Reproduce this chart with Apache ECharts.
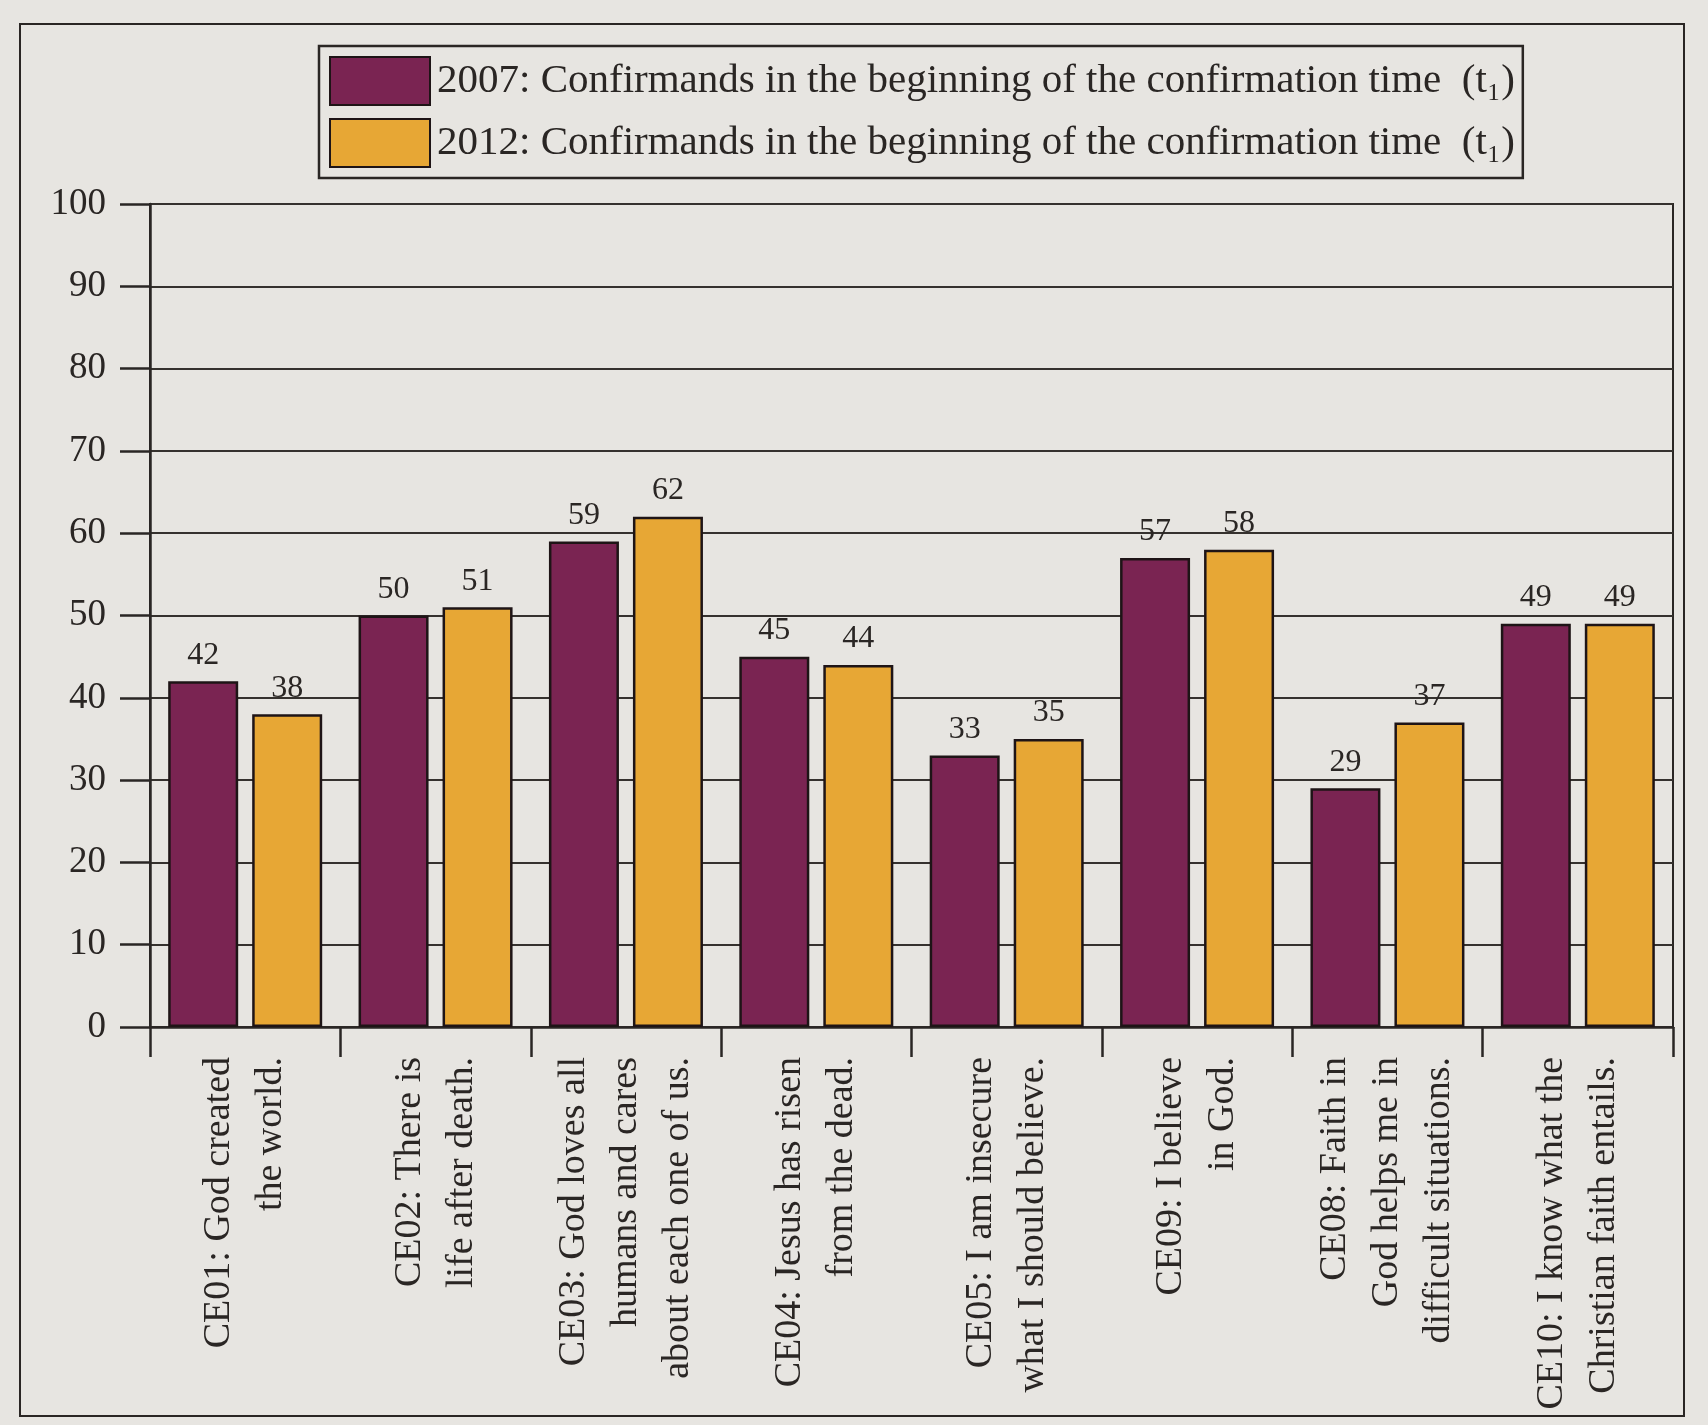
<!DOCTYPE html>
<html>
<head>
<meta charset="utf-8">
<script src="https://cdn.jsdelivr.net/npm/echarts@6/dist/echarts.min.js"></script>
<style>
  html, body { margin: 0; padding: 0; background: #e7e5e1; }
  #chart { width: 1708px; height: 1425px; }
</style>
</head>
<body>
<div id="chart"></div>
<script>
// 分类标签（多行）
var categories = [
  'CE01: God created\nthe world.',
  'CE02: There is\nlife after death.',
  'CE03: God loves all\nhumans and cares\nabout each one of us.',
  'CE04: Jesus has risen\nfrom the dead.',
  'CE05: I am insecure\nwhat I should believe.',
  'CE09: I believe\nin God.',
  'CE08: Faith in\nGod helps me in\ndifficult situations.',
  'CE10: I know what the\nChristian faith entails.'
]
var values2007 = [42, 50, 59, 45, 33, 57, 29, 49]
var values2012 = [38, 51, 62, 44, 35, 58, 37, 49]
var yTicks = [0, 10, 20, 30, 40, 50, 60, 70, 80, 90, 100]

var serif = '"Liberation Serif", "DejaVu Serif", serif'
var ink = '#2a2624'

var myChart = echarts.init(document.getElementById('chart'))

var options = {
  backgroundColor: '#e7e5e1',
  textStyle: { fontFamily: serif, color: ink },
  // 外框
  graphic: [
    {
      type: 'rect',
      shape: { x: 20, y: 24, width: 1664, height: 1392 },
      style: { fill: 'none', stroke: ink, lineWidth: 2 },
      silent: true,
      z: -1
    }
  ],
  legend: {
    orient: 'vertical',
    left: 319,
    top: 46,
    padding: [10, 8, 10, 10],
    icon: 'rect',
    itemWidth: 100,
    itemHeight: 48,
    itemGap: 12,
    borderColor: ink,
    borderWidth: 2.5,
    backgroundColor: '#e7e5e1',
    selectedMode: false,
    textStyle: { fontFamily: serif, fontSize: 41, color: ink, padding: [0, 0, 0, 2] },
    formatter: function (name) { return name + '  (t\u2081)' },
    data: [
      '2007: Confirmands in the beginning of the confirmation time',
      '2012: Confirmands in the beginning of the confirmation time'
    ]
  },
  grid: {
    left: 150,
    right: 35,
    top: 204,
    bottom: 398,
    show: true,
    borderColor: ink,
    borderWidth: 2,
    backgroundColor: 'transparent'
  },
  xAxis: {
    type: 'category',
    data: categories,
    axisLine: { show: true, lineStyle: { color: ink, width: 2.5 } },
    axisTick: { show: true, length: 30, lineStyle: { color: ink, width: 2.5 } },
    axisLabel: {
      rotate: 90,
      interval: 0,
      margin: 30,
      fontFamily: serif,
      fontSize: 38,
      lineHeight: 52,
      color: ink
    }
  },
  yAxis: {
    type: 'value',
    min: yTicks[0],
    max: yTicks[yTicks.length - 1],
    interval: 10,
    axisLine: { show: true, lineStyle: { color: ink, width: 2.5 } },
    axisTick: { show: true, length: 30, lineStyle: { color: ink, width: 2.5 } },
    axisLabel: { margin: 44, fontFamily: serif, fontSize: 37, color: ink },
    splitLine: { show: true, lineStyle: { color: '#35312e', width: 2 } }
  },
  series: [
    {
      name: '2007: Confirmands in the beginning of the confirmation time',
      type: 'bar',
      data: values2007,
      barWidth: 70,
      barGap: '20%',
      itemStyle: { color: '#7a2452', borderColor: '#1e1416', borderWidth: 2.5 },
      label: { show: true, position: 'top', distance: 10, fontFamily: serif, fontSize: 32, color: ink }
    },
    {
      name: '2012: Confirmands in the beginning of the confirmation time',
      type: 'bar',
      data: values2012,
      barWidth: 70,
      barGap: '20%',
      itemStyle: { color: '#e7a735', borderColor: '#1e1416', borderWidth: 2.5 },
      label: { show: true, position: 'top', distance: 10, fontFamily: serif, fontSize: 32, color: ink }
    }
  ]
}

myChart.setOption(options)
</script>
</body>
</html>
